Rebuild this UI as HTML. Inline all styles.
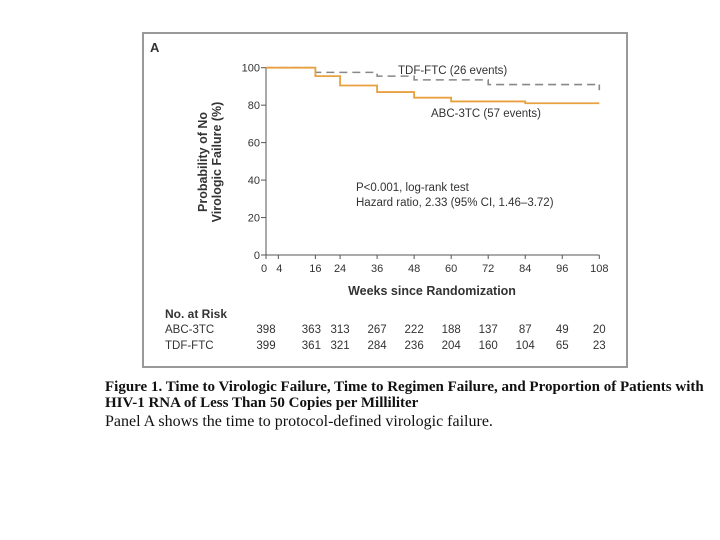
<!DOCTYPE html>
<html><head><meta charset="utf-8"><style>
body{margin:0;width:720px;height:540px;background:#fff;overflow:hidden}
svg{position:absolute;left:0;top:0}
.t{font-family:"Liberation Sans",sans-serif;fill:#333}
.cap{position:absolute;left:105px;font-family:"Liberation Serif",serif;color:#111;white-space:nowrap}
</style></head><body>
<svg width="720" height="540" id="chart">
<rect x="143" y="33" width="484" height="334" fill="none" stroke="#999" stroke-width="2"/>
<text x="150" y="52" class="t" font-weight="bold" font-size="13">A</text>
<g id="axes"></g>
<g id="series"></g>
<text x="432" y="295" text-anchor="middle" class="t" font-weight="bold" font-size="12.5">Weeks since Randomization</text>
<text transform="translate(207,162) rotate(-90)" text-anchor="middle" class="t" font-weight="bold" font-size="12.5">Probability of No</text>
<text transform="translate(221,162) rotate(-90)" text-anchor="middle" class="t" font-weight="bold" font-size="12.5">Virologic Failure (%)</text>
<text x="398" y="74" class="t" font-size="11.5">TDF-FTC (26 events)</text>
<text x="431" y="117" class="t" font-size="11.5">ABC-3TC (57 events)</text>
<text x="356" y="191" class="t" font-size="11.5">P&lt;0.001, log-rank test</text>
<text x="356" y="206" class="t" font-size="11.5">Hazard ratio, 2.33 (95% CI, 1.46–3.72)</text>
<text x="165" y="318" class="t" font-weight="bold" font-size="12">No. at Risk</text>
<text x="165" y="333" class="t" font-size="11.5">ABC-3TC</text>
<text x="165" y="349" class="t" font-size="11.5">TDF-FTC</text>
<g id="risk"></g>
</svg>
<div class="cap" style="top:379px;font-size:15px;font-weight:bold;line-height:16px">Figure 1. Time to Virologic Failure, Time to Regimen Failure, and Proportion of Patients with<br>HIV-1 RNA of Less Than 50 Copies per Milliliter</div>
<div class="cap" style="top:413px;font-size:16px">Panel A shows the time to protocol-defined virologic failure.</div>
<script>
const xTicks=[0,4,16,24,36,48,60,72,84,96,108];
const yTicks=[0,20,40,60,80,100];
const abcWeeks=[0,16,24,36,48,60,84,108];
const abcSurv=[100,95.5,90.5,87,84,82,81,81];
const tdfWeeks=[0,16,36,48,72,108];
const tdfSurv=[100,97.5,95.5,93.5,91,91];
const riskWeeks=[0,16,24,36,48,60,72,84,96,108];
const riskAbc=[398,363,313,267,222,188,137,87,49,20];
const riskTdf=[399,361,321,284,236,204,160,104,65,23];
const NS="http://www.w3.org/2000/svg";
const X=w=>266+w*(599.3-266)/108;
const Y=v=>255-v*(255-67.7)/100;
function mk(tag,at,parent){const e=document.createElementNS(NS,tag);for(const k in at)e.setAttribute(k,at[k]);document.getElementById(parent).appendChild(e);return e;}
let a;
a=mk('line',{x1:X(0),y1:Y(0),x2:X(0),y2:Y(100),stroke:'#555','stroke-width':1},'axes');


a=mk('line',{x1:X(0),y1:Y(0),x2:X(108),y2:Y(0),stroke:'#555','stroke-width':1},'axes');


yTicks.forEach(v=>{
 let l=mk('line',{x1:X(0)-5,y1:Y(v),x2:X(0),y2:Y(v),stroke:'#555'},'axes');
 
 
 let t=mk('text',{x:X(0)-6,y:Y(v)+4,'text-anchor':'end',class:'t','font-size':'11'},'axes');t.textContent=v;
 
 
});
xTicks.forEach(w=>{
 let l=mk('line',{x1:X(w),y1:Y(0),x2:X(w),y2:Y(0)+4,stroke:'#555'},'axes');
 
 
 let t=mk('text',{x:X(w)+(w===0?-2:w===4?1:0),y:Y(0)+17,'text-anchor':'middle',class:'t','font-size':'11'},'axes');t.textContent=w;
 
 
});
function step(ws,vs){let d='M'+X(ws[0])+','+Y(vs[0]);for(let i=1;i<ws.length;i++){d+=' H'+X(ws[i])+' V'+Y(vs[i]);}return d;}
let p=mk('path',{d:step(tdfWeeks,tdfSurv),fill:'none',stroke:'#888','stroke-width':1.6,'stroke-dasharray':'8,5'},'series');


p=mk('line',{x1:X(108),y1:Y(tdfSurv[tdfSurv.length-1]),x2:X(108),y2:Y(tdfSurv[tdfSurv.length-1]-3),stroke:'#888','stroke-width':1.6},'series');


p=mk('path',{d:step(abcWeeks,abcSurv),fill:'none',stroke:'#e8a040','stroke-width':1.8},'series');


riskWeeks.forEach((w,i)=>{
 let t=mk('text',{x:X(w)+(w===16?-4:0),y:333,'text-anchor':'middle',class:'t','font-size':'11.5'},'risk');t.textContent=riskAbc[i];
 
 
 t=mk('text',{x:X(w)+(w===16?-4:0),y:349,'text-anchor':'middle',class:'t','font-size':'11.5'},'risk');t.textContent=riskTdf[i];
 
 
});
</script>
</body></html>
